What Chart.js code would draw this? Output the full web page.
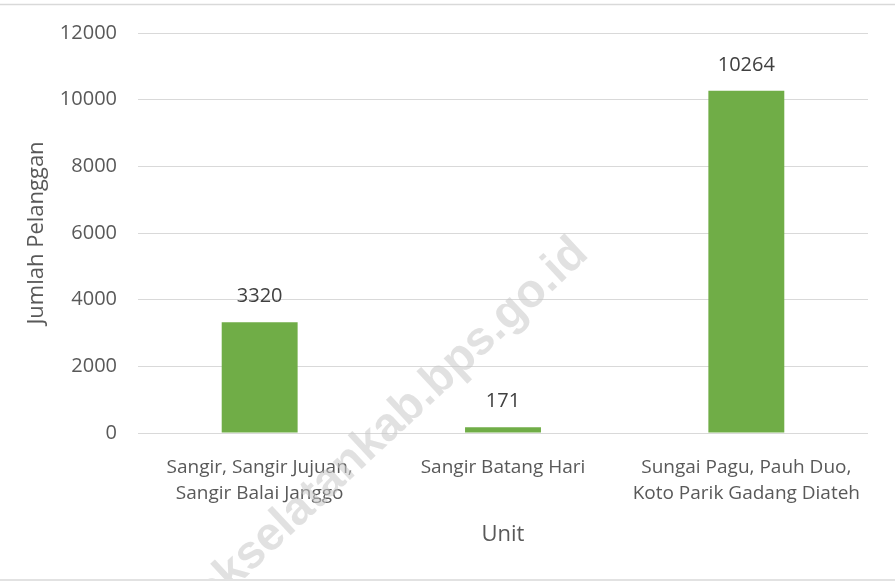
<!DOCTYPE html>
<html lang="id">
<head>
    <meta charset="UTF-8">
    <title>Jumlah Pelanggan per Unit</title>
    <script src="https://cdn.jsdelivr.net/npm/chart.js@4.4.1/dist/chart.umd.min.js"></script>
    <style>
        body {
            margin: 0;
            background-color: #fff;
        }
        #chartBox {
            width: 895px;
            height: 581px;
        }
    </style>
</head>
<body>
    <div id="chartBox">
        <canvas id="myChart" width="895" height="581"></canvas>
    </div>

    <script>
        // data
        const units = [
            ['Sangir, Sangir Jujuan,', 'Sangir Balai Janggo'],
            'Sangir Batang Hari',
            ['Sungai Pagu, Pauh Duo,', 'Koto Parik Gadang Diateh']
        ];
        const pelanggan = [3320, 171, 10264];
        const yTicks = [0, 2000, 4000, 6000, 8000, 10000, 12000];

        const FONT = "'Open Sans', sans-serif";

        // light border lines + white background
        const framePlugin = {
            id: 'frame',
            beforeDraw(chart) {
                const ctx = chart.ctx;
                ctx.save();
                ctx.fillStyle = '#fff';
                ctx.fillRect(0, 0, chart.width, chart.height);
                ctx.strokeStyle = '#d9d9d9';
                ctx.lineWidth = 1.5;
                ctx.beginPath();
                ctx.moveTo(0, 4.5);
                ctx.lineTo(chart.width, 4.5);
                ctx.moveTo(0, 580);
                ctx.lineTo(chart.width, 580);
                ctx.stroke();
                ctx.restore();
            }
        };

        // value above each bar
        const valueLabels = {
            id: 'valueLabels',
            afterDatasetsDraw(chart) {
                const ctx = chart.ctx;
                const meta = chart.getDatasetMeta(0);
                ctx.save();
                ctx.font = '20px ' + FONT;
                ctx.fillStyle = '#404040';
                ctx.textAlign = 'center';
                ctx.textBaseline = 'middle';
                meta.data.forEach((bar, i) => {
                    ctx.fillText(String(pelanggan[i]), bar.x, bar.y - 26);
                });
                ctx.restore();
            }
        };

        // diagonal site watermark
        const watermark = {
            id: 'watermark',
            afterDraw(chart) {
                const ctx = chart.ctx;
                ctx.save();
                ctx.beginPath();
                ctx.rect(0, 6, chart.width, 573);
                ctx.clip();
                ctx.translate(590, 256);
                ctx.rotate(-43 * Math.PI / 180);
                ctx.font = "bold 47px 'Liberation Sans', Arial, sans-serif";
                ctx.fillStyle = 'rgba(200, 200, 200, 0.55)';
                ctx.textAlign = 'right';
                ctx.textBaseline = 'alphabetic';
                ctx.fillText('solokselatankab.bps.go.id', 0, 0);
                ctx.restore();
            }
        };

        const ctx = document.getElementById('myChart').getContext('2d');
        new Chart(ctx, {
            type: 'bar',
            data: {
                labels: units,
                datasets: [{
                    label: 'Jumlah Pelanggan',
                    data: pelanggan,
                    backgroundColor: '#70ad47',
                    borderWidth: 0,
                    categoryPercentage: 1,
                    barPercentage: 0.312
                }]
            },
            options: {
                responsive: false,
                animation: false,
                layout: {
                    padding: { top: 33, right: 27, bottom: 0, left: 0 }
                },
                plugins: {
                    legend: { display: false },
                    tooltip: { enabled: false }
                },
                scales: {
                    x: {
                        grid: { display: false },
                        border: { display: false },
                        ticks: {
                            color: '#595959',
                            font: { family: FONT, size: 19, lineHeight: 1.4 },
                            padding: 13,
                            maxRotation: 0,
                            autoSkip: false
                        },
                        title: {
                            display: true,
                            text: 'Unit',
                            color: '#595959',
                            font: { family: FONT, size: 22 },
                            padding: { top: 0, bottom: 33 }
                        },
                        afterFit(scale) { scale.height = 148; }
                    },
                    y: {
                        min: 0,
                        max: 12000,
                        grid: {
                            color: '#d9d9d9',
                            lineWidth: 1,
                            drawTicks: false
                        },
                        border: { display: false },
                        afterBuildTicks(scale) {
                            scale.ticks = yTicks.map(v => ({ value: v }));
                        },
                        ticks: {
                            color: '#595959',
                            font: { family: FONT, size: 20 },
                            padding: 21,
                            callback: v => String(v)
                        },
                        title: {
                            display: true,
                            text: 'Jumlah Pelanggan',
                            color: '#595959',
                            font: { family: FONT, size: 22 },
                            padding: { top: 24, bottom: 0 }
                        },
                        afterFit(scale) { scale.width = 138; }
                    }
                }
            },
            plugins: [framePlugin, valueLabels, watermark]
        });
    </script>
</body>
</html>
